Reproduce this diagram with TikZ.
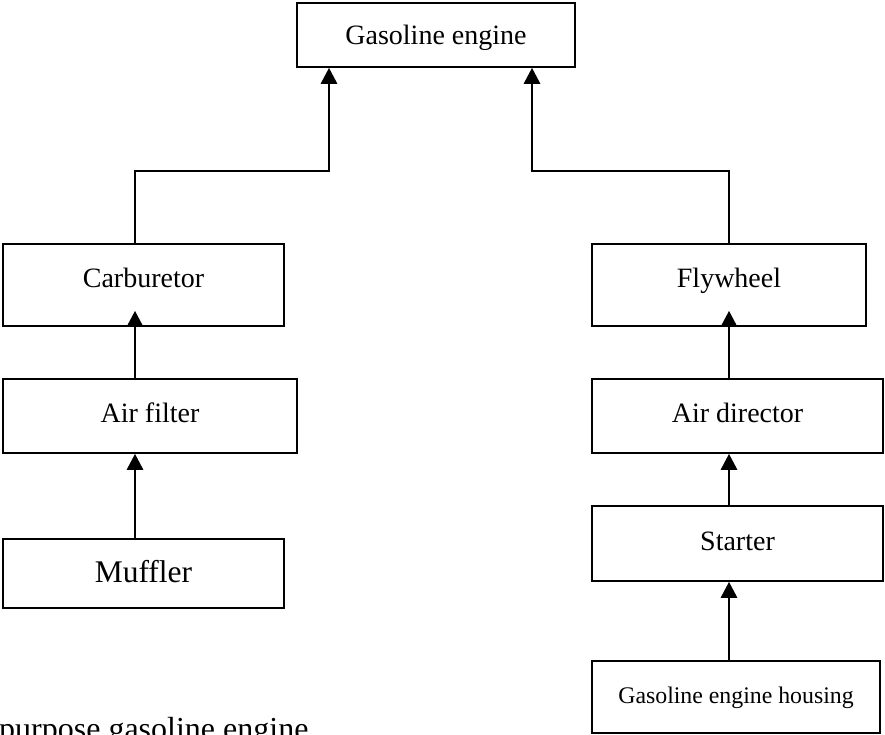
\documentclass[tikz,border=0pt]{standalone}
\usepackage{fontspec}
\setmainfont{Liberation Serif}
\usetikzlibrary{arrows.meta}
\begin{document}
\begin{tikzpicture}[x=1pt,y=-1pt,
  box/.style={draw,line width=1.6pt,rectangle,inner sep=0pt,
    font=\fontsize{28}{32}\selectfont,text height=19pt,text depth=0pt},
  conn/.style={line width=2.8pt},
  arr/.style={conn,-{Triangle[length=16pt,width=16pt]}}]
\useasboundingbox (0,0) rectangle (885,735);
\clip (0,0) rectangle (885,735);

% boxes
\node[box,minimum width=278pt,minimum height=64pt] (ge) at (436,35) {Gasoline engine};
\node[box,minimum width=281pt,minimum height=82pt,text depth=15pt] (carb) at (143.5,285) {Carburetor};
\node[box,minimum width=274pt,minimum height=82pt,text depth=15pt] (fly) at (729,285) {Flywheel};
\node[box,minimum width=294pt,minimum height=74pt,text depth=6pt] (af) at (150,416) {Air filter};
\node[box,minimum width=291pt,minimum height=74pt,text depth=6pt] (ad) at (737.5,416) {Air director};
\node[box,minimum width=281pt,minimum height=69pt,font=\fontsize{31.5}{36}\selectfont,text height=21pt,text depth=3pt] (muf) at (143.5,573.5) {Muffler};
\node[box,minimum width=291pt,minimum height=75pt,text depth=5pt] (st) at (737.5,543.5) {Starter};
\node[box,minimum width=288pt,minimum height=72pt,font=\fontsize{23.8}{28}\selectfont,text height=15.8pt,text depth=3pt] (hs) at (736,697) {Gasoline engine housing};

% column coordinates
\coordinate (lx) at (135,0);
\coordinate (rx) at (729,0);
\coordinate (lel) at (329,171);
\coordinate (rel) at (532,171);

% connectors
\draw[arr] (carb.north -| lx) |- (lel) -- (lel |- ge.south);
\draw[arr] (fly.north -| rx) |- (rel) -- (rel |- ge.south);
\draw[arr] (af.north -| lx) -- ([yshift=16pt]carb.south -| lx);
\draw[arr] (ad.north -| rx) -- ([yshift=16pt]fly.south -| rx);
\draw[arr] (muf.north -| lx) -- (af.south -| lx);
\draw[arr] (st.north -| rx) -- (ad.south -| rx);
\draw[arr] (hs.north -| rx) -- (st.south -| rx);

% caption, cropped at the lower edge as in the reference
\node[anchor=base west,inner sep=0pt,font=\fontsize{32}{36}\selectfont] (cap) at (-1,739) {purpose gasoline engine};
\end{tikzpicture}
\end{document}
